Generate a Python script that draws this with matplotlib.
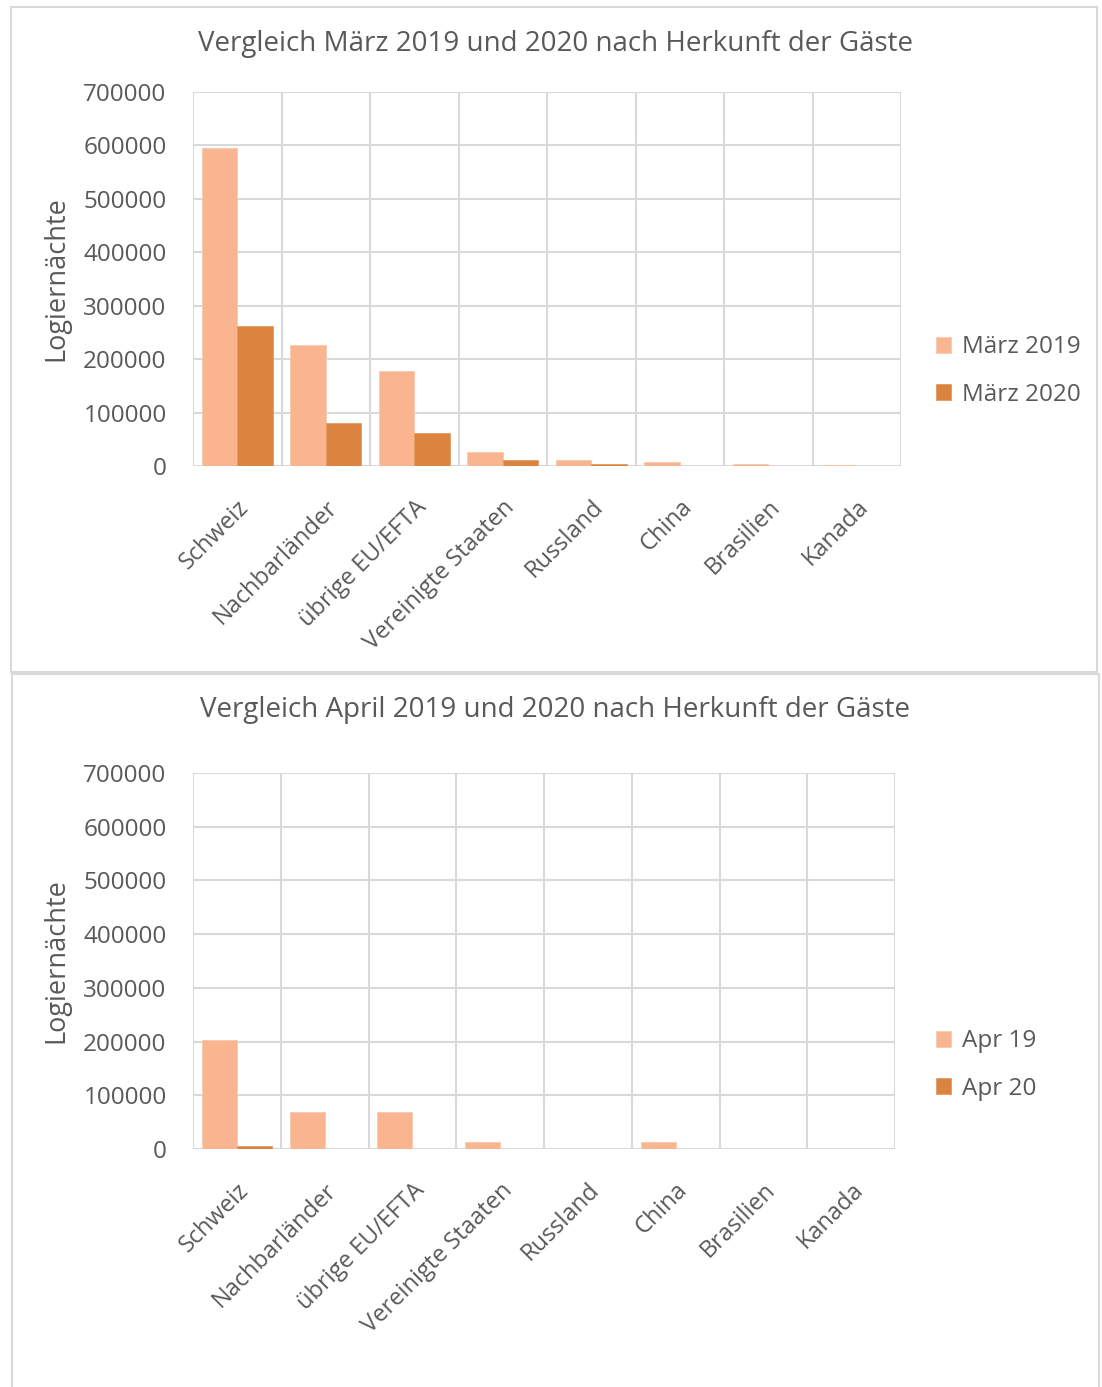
import matplotlib
matplotlib.use("Agg")
import matplotlib.pyplot as plt
import numpy as np
from matplotlib.patches import Rectangle

plt.rcParams['font.family'] = ['Open Sans', 'DejaVu Sans']

categories = ["Schweiz", "Nachbarländer", "übrige EU/EFTA", "Vereinigte Staaten",
              "Russland", "China", "Brasilien", "Kanada"]

maerz_2019 = [595000, 227000, 177000, 27000, 11000, 7500, 3700, 1900]
maerz_2020 = [262000, 81000, 61000, 10500, 3700, 500, 300, 200]
apr_19 = [203000, 69000, 69000, 12500, 500, 13500, 300, 200]
apr_20 = [5500, 300, 300, 200, 100, 200, 50, 50]

yticks = [0, 100000, 200000, 300000, 400000, 500000, 600000, 700000]

light = "#F8B58F"
dark = "#DB843F"
grid = "#D9D9D9"
txt = "#595959"

W, H = 1102, 1387
fig = plt.figure(figsize=(W / 100, H / 100), dpi=100)

def fx(x):
    return x / W

def fy(y):
    return 1 - y / H

# panel borders
fig.patches.append(Rectangle((fx(11), fy(672)), fx(1097 - 11), (672 - 7) / H,
                             transform=fig.transFigure, fill=False, ec=grid, lw=1.5))
fig.patches.append(Rectangle((fx(12), fy(1392)), fx(1099 - 12), (1392 - 674) / H,
                             transform=fig.transFigure, fill=False, ec=grid, lw=1.5))

def panel(box, s1, s2, names, title, title_y, leg_y):
    l, r, b, t = box
    ax = fig.add_axes([fx(l), fy(b), fx(r - l), (b - t) / H])
    n = len(categories)
    x = np.arange(n)
    w = 0.4
    h1 = ax.bar(x - w / 2, s1, width=w, color=light, edgecolor="#FAC9AD", lw=0.6, label=names[0], zorder=3)
    h2 = ax.bar(x + w / 2, s2, width=w, color=dark, edgecolor="#E59A60", lw=0.6, label=names[1], zorder=3)
    ax.set_xlim(-0.5, n - 0.5)
    ax.set_ylim(0, 700000)
    ax.set_yticks(yticks)
    ax.set_yticklabels([str(v) for v in yticks], fontsize=17.5, color=txt)
    ax.set_xticks(x)
    ax.set_xticklabels(categories, rotation=45, ha="right", va="top",
                       rotation_mode="anchor", fontsize=17, color=txt)
    ax.tick_params(axis="x", length=0, pad=21)
    ax.tick_params(axis="y", length=0, pad=19)
    for v in yticks:
        ax.axhline(v, color=grid, lw=1.5, zorder=1)
    for i in range(n + 1):
        ax.axvline(i - 0.5, color=grid, lw=1.5, zorder=1)
    for s in ax.spines.values():
        s.set_visible(False)
    ax.set_ylabel("Logiernächte", fontsize=19.5, color=txt, labelpad=9)
    fig.text(fx(555), fy(title_y), title, ha="center", va="center", fontsize=20, color=txt)
    fig.legend(handles=[h1, h2], labels=names, loc="center left",
               bbox_to_anchor=(fx(914), fy(leg_y)), frameon=False,
               fontsize=17.5, labelcolor=txt, handlelength=0.62, handleheight=0.62,
               handletextpad=0.45, labelspacing=0.95)
    return ax

panel((193, 901, 466, 92), maerz_2019, maerz_2020, ["März 2019", "März 2020"],
      "Vergleich März 2019 und 2020 nach Herkunft der Gäste", 44, 371)
panel((193, 895, 1149, 773), apr_19, apr_20, ["Apr 19", "Apr 20"],
      "Vergleich April 2019 und 2020 nach Herkunft der Gäste", 710, 1065)

fig.savefig("out.png", dpi=100, facecolor="white")
